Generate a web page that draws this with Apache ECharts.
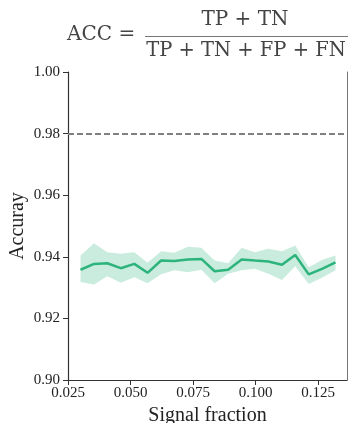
<!DOCTYPE html>
<html><head><meta charset="utf-8">
<script src="https://cdn.jsdelivr.net/npm/echarts@6/dist/echarts.min.js"></script>
<style>html,body{margin:0;padding:0;background:#fff}#c{width:349px;height:423px}</style>
</head><body><div id="c"></div>
<script>
const signalFraction = [0.0300,0.0354,0.0407,0.0461,0.0515,0.0568,0.0622,0.0675,0.0729,0.0783,0.0836,0.0890,0.0944,0.0997,0.1051,0.1105,0.1158,0.1212,0.1265,0.1319];
const accMean  = [0.9358,0.9377,0.9379,0.9363,0.9377,0.9348,0.9388,0.9386,0.9391,0.9393,0.9353,0.9358,0.9391,0.9388,0.9385,0.9374,0.9406,0.9343,0.9361,0.9382];
const accUpper = [0.9404,0.9444,0.9415,0.9410,0.9415,0.9381,0.9418,0.9413,0.9433,0.9429,0.9388,0.9379,0.9429,0.9415,0.9426,0.9418,0.9437,0.9366,0.9390,0.9404];
const accLower = [0.9318,0.9310,0.9337,0.9316,0.9334,0.9314,0.9343,0.9356,0.9350,0.9358,0.9314,0.9345,0.9356,0.9361,0.9345,0.9325,0.9369,0.9312,0.9332,0.9356];
const referenceAcc = 0.98;
const xTicks = [0.025, 0.050, 0.075, 0.100, 0.125];
const yTicks = [0.90, 0.92, 0.94, 0.96, 0.98, 1.00];

const FONT = '"Liberation Serif", "DejaVu Serif", serif';
const TFONT = '"DejaVu Serif", serif';
const green = '#2db47d';
const chart = echarts.init(document.getElementById('c'), null, {renderer: 'canvas'});
const meanData = signalFraction.map((x, i) => [x, accMean[i]]);
const bandData = signalFraction.map((x, i) => [x, accLower[i], accUpper[i]]);

chart.setOption({
  animation: false,
  grid: {left: 68, top: 72, right: 2, bottom: 43, containLabel: false, outerBoundsMode: 'none'},
  xAxis: {
    type: 'value', min: 0.025, max: 0.1365, interval: 0.025,
    name: 'Signal fraction', nameLocation: 'middle', nameGap: 25,
    nameTextStyle: {fontFamily: FONT, fontSize: 20, color: '#222'},
    axisLine: {lineStyle: {color: '#333', width: 1.2}},
    axisTick: {show: true, length: 5, lineStyle: {color: '#333'}},
    axisLabel: {fontFamily: FONT, fontSize: 15, color: '#222', margin: 6, showMaxLabel: false,
      formatter: v => xTicks.some(t => Math.abs(t - v) < 1e-6) ? v.toFixed(3) : ''},
    splitLine: {show: false}
  },
  yAxis: [{
    type: 'value', min: 0.9, max: 1.0, interval: 0.02,
    name: 'Accuray', nameLocation: 'middle', nameGap: 40, nameMoveOverlap: false,
    nameTextStyle: {fontFamily: FONT, fontSize: 20, color: '#222'},
    axisLine: {show: true, lineStyle: {color: '#333', width: 1.2}},
    axisTick: {show: true, length: 5, lineStyle: {color: '#333'}},
    axisLabel: {fontFamily: FONT, fontSize: 15, color: '#222', margin: 8,
      formatter: v => yTicks.some(t => Math.abs(t - v) < 1e-6) ? v.toFixed(2) : ''},
    splitLine: {show: false}
  }, {
    type: 'value', min: 0.9, max: 1.0, position: 'right',
    axisLine: {show: true, lineStyle: {color: '#777', width: 1}},
    axisTick: {show: false}, axisLabel: {show: false}, splitLine: {show: false}
  }],
  series: [
    {type: 'custom', silent: true, data: bandData, z: 1,
     renderItem: (params, api) => {
       if (params.dataIndex !== 0) return null;
       const top = bandData.map(d => api.coord([d[0], d[2]]));
       const bot = bandData.slice().reverse().map(d => api.coord([d[0], d[1]]));
       return {type: 'polygon', shape: {points: top.concat(bot)},
               style: {fill: 'rgba(45,180,125,0.25)', stroke: 'none'}};
     }},
    {type: 'line', data: meanData, symbol: 'none', z: 3, lineStyle: {color: green, width: 2.5},
     markLine: {symbol: 'none', silent: true, label: {show: false},
       lineStyle: {color: '#808080', type: [6, 3], width: 2},
       data: [{yAxis: referenceAcc}]}}
  ],
  graphic: [
    {type: 'text', x: 67, y: 35, style: {text: 'ACC =', font: '20px ' + TFONT, fill: '#444', textVerticalAlign: 'middle'}},
    {type: 'text', x: 245, y: 20, style: {text: 'TP + TN', font: '20px ' + TFONT, fill: '#444', textAlign: 'center', textVerticalAlign: 'middle'}},
    {type: 'line', shape: {x1: 145, y1: 36.5, x2: 348, y2: 36.5}, style: {stroke: '#777', lineWidth: 1}},
    {type: 'text', x: 246, y: 51, style: {text: 'TP + TN + FP + FN', font: '19.5px ' + TFONT, fill: '#444', textAlign: 'center', textVerticalAlign: 'middle'}}
  ]
});
</script></body></html>
